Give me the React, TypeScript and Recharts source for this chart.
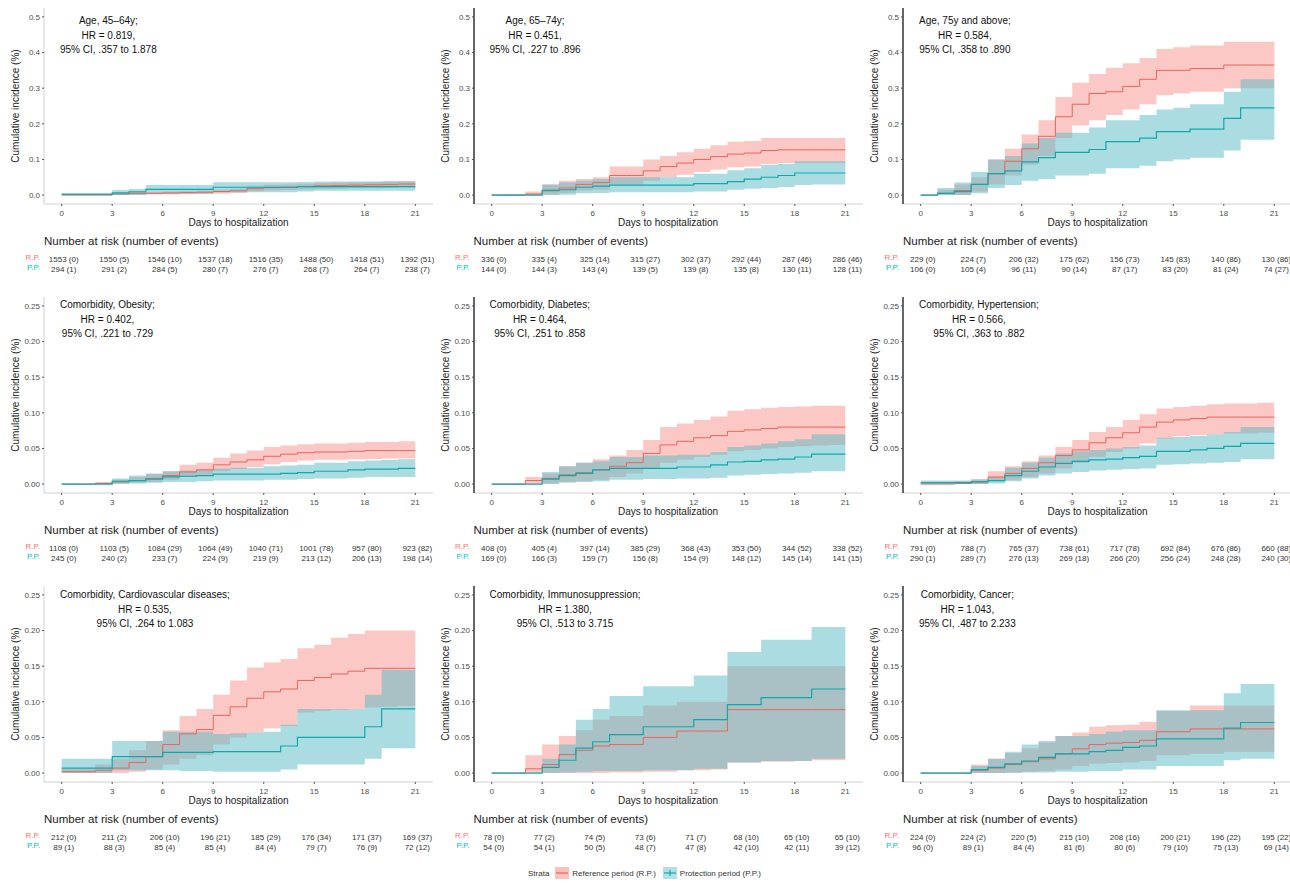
import React from 'react';
import { ComposedChart, Area, Line, XAxis, YAxis } from 'recharts';

const days = [0, 1, 2, 3, 4, 5, 6, 7, 8, 9, 10, 11, 12, 13, 14, 15, 16, 17, 18, 19, 20, 21];
const dayTicks = [0, 3, 6, 9, 12, 15, 18, 21];
const ticksAge = [0, 0.1, 0.2, 0.3, 0.4, 0.5];
const ticksCom = [0, 0.05, 0.1, 0.15, 0.2, 0.25];

// Age, 45-64y
const a1Rp = [0, 0, 0, 0.003, 0.004, 0.005, 0.006, 0.007, 0.008, 0.01, 0.012, 0.018, 0.021, 0.022, 0.024, 0.026, 0.027, 0.028, 0.029, 0.03, 0.031, 0.031];
const a1RpLo = [0, 0, 0, 0.001, 0.001, 0.002, 0.002, 0.003, 0.003, 0.004, 0.006, 0.011, 0.013, 0.014, 0.016, 0.017, 0.018, 0.019, 0.019, 0.02, 0.021, 0.021];
const a1RpHi = [0, 0, 0, 0.006, 0.007, 0.008, 0.01, 0.011, 0.012, 0.015, 0.018, 0.025, 0.029, 0.03, 0.032, 0.034, 0.035, 0.036, 0.037, 0.038, 0.039, 0.039];
const a1Pp = [0.002, 0.002, 0.002, 0.006, 0.009, 0.016, 0.016, 0.016, 0.016, 0.022, 0.022, 0.022, 0.022, 0.022, 0.024, 0.024, 0.024, 0.024, 0.024, 0.024, 0.024, 0.024];
const a1PpLo = [0, 0, 0, 0, 0.001, 0.004, 0.004, 0.004, 0.004, 0.008, 0.008, 0.008, 0.008, 0.008, 0.01, 0.012, 0.012, 0.012, 0.012, 0.012, 0.012, 0.012];
const a1PpHi = [0.005, 0.005, 0.005, 0.014, 0.017, 0.028, 0.028, 0.028, 0.028, 0.036, 0.036, 0.036, 0.036, 0.036, 0.037, 0.038, 0.038, 0.038, 0.038, 0.039, 0.039, 0.039];
const a1RiskRp = ['1553 (0)', '1550 (5)', '1546 (10)', '1537 (18)', '1516 (35)', '1488 (50)', '1418 (51)', '1392 (51)'];
const a1RiskPp = ['294 (1)', '291 (2)', '284 (5)', '280 (7)', '276 (7)', '268 (7)', '264 (7)', '238 (7)'];

// Age, 65-74y
const a2Rp = [0, 0, 0.003, 0.012, 0.02, 0.03, 0.035, 0.055, 0.055, 0.068, 0.08, 0.09, 0.1, 0.108, 0.115, 0.118, 0.125, 0.127, 0.127, 0.127, 0.127, 0.127];
const a2RpLo = [0, 0, 0, 0.002, 0.006, 0.012, 0.015, 0.03, 0.03, 0.04, 0.05, 0.057, 0.065, 0.072, 0.078, 0.08, 0.087, 0.09, 0.09, 0.09, 0.09, 0.09];
const a2RpHi = [0, 0, 0.01, 0.03, 0.04, 0.045, 0.05, 0.08, 0.08, 0.1, 0.11, 0.12, 0.13, 0.14, 0.15, 0.152, 0.16, 0.16, 0.16, 0.16, 0.16, 0.16];
const a2Pp = [0, 0, 0, 0.013, 0.015, 0.022, 0.025, 0.028, 0.028, 0.028, 0.028, 0.028, 0.032, 0.032, 0.038, 0.045, 0.05, 0.055, 0.062, 0.062, 0.062, 0.062];
const a2PpLo = [0, 0, 0, 0, 0.001, 0.005, 0.006, 0.008, 0.008, 0.008, 0.008, 0.008, 0.01, 0.01, 0.015, 0.018, 0.02, 0.023, 0.028, 0.03, 0.03, 0.03];
const a2PpHi = [0.002, 0.002, 0.002, 0.03, 0.035, 0.04, 0.045, 0.05, 0.05, 0.05, 0.05, 0.05, 0.06, 0.06, 0.07, 0.075, 0.085, 0.088, 0.095, 0.095, 0.095, 0.095];
const a2RiskRp = ['336 (0)', '335 (4)', '325 (14)', '315 (27)', '302 (37)', '292 (44)', '287 (46)', '286 (46)'];
const a2RiskPp = ['144 (0)', '144 (3)', '143 (4)', '139 (5)', '139 (8)', '135 (8)', '130 (11)', '128 (11)'];

// Age, 75y and above
const a3Rp = [0, 0.005, 0.013, 0.03, 0.06, 0.095, 0.13, 0.165, 0.22, 0.255, 0.285, 0.29, 0.305, 0.325, 0.35, 0.35, 0.355, 0.355, 0.365, 0.365, 0.365, 0.365];
const a3RpLo = [0, 0, 0, 0.01, 0.03, 0.055, 0.085, 0.11, 0.16, 0.195, 0.21, 0.225, 0.24, 0.255, 0.28, 0.285, 0.29, 0.29, 0.3, 0.3, 0.3, 0.3];
const a3RpHi = [0, 0.015, 0.03, 0.05, 0.1, 0.13, 0.17, 0.21, 0.275, 0.315, 0.34, 0.357, 0.37, 0.385, 0.41, 0.415, 0.42, 0.42, 0.43, 0.43, 0.43, 0.43];
const a3Pp = [0, 0.005, 0.01, 0.03, 0.06, 0.068, 0.093, 0.105, 0.12, 0.12, 0.128, 0.15, 0.15, 0.16, 0.178, 0.178, 0.185, 0.185, 0.215, 0.245, 0.245, 0.245];
const a3PpLo = [0, 0, 0, 0.005, 0.02, 0.028, 0.04, 0.045, 0.055, 0.055, 0.06, 0.075, 0.075, 0.082, 0.095, 0.1, 0.105, 0.105, 0.125, 0.155, 0.155, 0.155];
const a3PpHi = [0, 0.02, 0.035, 0.065, 0.1, 0.11, 0.145, 0.16, 0.175, 0.175, 0.19, 0.21, 0.21, 0.225, 0.24, 0.245, 0.255, 0.255, 0.29, 0.325, 0.325, 0.325];
const a3RiskRp = ['229 (0)', '224 (7)', '206 (32)', '175 (62)', '156 (73)', '145 (83)', '140 (86)', '130 (86)'];
const a3RiskPp = ['106 (0)', '105 (4)', '96 (11)', '90 (14)', '87 (17)', '83 (20)', '81 (24)', '74 (27)'];

// Comorbidity, Obesity
const obRp = [0, 0, 0.001, 0.003, 0.005, 0.008, 0.012, 0.017, 0.02, 0.027, 0.031, 0.034, 0.039, 0.042, 0.044, 0.045, 0.045, 0.046, 0.047, 0.047, 0.047, 0.047];
const obRpLo = [0, 0, 0, 0.001, 0.002, 0.003, 0.006, 0.01, 0.013, 0.018, 0.021, 0.024, 0.028, 0.031, 0.033, 0.034, 0.034, 0.035, 0.035, 0.036, 0.036, 0.036];
const obRpHi = [0, 0, 0.003, 0.006, 0.01, 0.014, 0.018, 0.027, 0.03, 0.037, 0.043, 0.047, 0.052, 0.054, 0.056, 0.057, 0.057, 0.058, 0.059, 0.059, 0.06, 0.06];
const obPp = [0, 0, 0, 0.004, 0.005, 0.007, 0.01, 0.011, 0.012, 0.014, 0.014, 0.014, 0.014, 0.015, 0.016, 0.018, 0.018, 0.02, 0.021, 0.021, 0.022, 0.022];
const obPpLo = [0, 0, 0, 0, 0.001, 0.002, 0.003, 0.003, 0.004, 0.005, 0.005, 0.005, 0.006, 0.006, 0.007, 0.008, 0.008, 0.009, 0.01, 0.01, 0.01, 0.01];
const obPpHi = [0, 0, 0, 0.008, 0.012, 0.015, 0.018, 0.019, 0.02, 0.022, 0.023, 0.023, 0.025, 0.026, 0.027, 0.03, 0.03, 0.032, 0.033, 0.034, 0.035, 0.035];
const obRiskRp = ['1108 (0)', '1103 (5)', '1084 (29)', '1064 (49)', '1040 (71)', '1001 (78)', '957 (80)', '923 (82)'];
const obRiskPp = ['245 (0)', '240 (2)', '233 (7)', '224 (9)', '219 (9)', '213 (12)', '206 (13)', '198 (14)'];

// Comorbidity, Diabetes
const dbRp = [0, 0, 0.005, 0.008, 0.013, 0.016, 0.02, 0.025, 0.03, 0.043, 0.055, 0.06, 0.065, 0.068, 0.074, 0.076, 0.078, 0.08, 0.08, 0.08, 0.08, 0.08];
const dbRpLo = [0, 0, 0, 0.001, 0.003, 0.004, 0.006, 0.01, 0.015, 0.022, 0.03, 0.034, 0.038, 0.041, 0.046, 0.048, 0.05, 0.052, 0.053, 0.054, 0.055, 0.055];
const dbRpHi = [0, 0, 0.01, 0.015, 0.025, 0.03, 0.035, 0.04, 0.048, 0.062, 0.08, 0.085, 0.09, 0.095, 0.103, 0.105, 0.107, 0.108, 0.109, 0.11, 0.11, 0.11];
const dbPp = [0, 0, 0, 0.007, 0.012, 0.015, 0.02, 0.022, 0.022, 0.022, 0.022, 0.024, 0.024, 0.027, 0.031, 0.032, 0.034, 0.035, 0.038, 0.042, 0.042, 0.042];
const dbPpLo = [0, 0, 0, 0, 0.002, 0.003, 0.004, 0.006, 0.006, 0.007, 0.007, 0.008, 0.008, 0.009, 0.012, 0.013, 0.014, 0.015, 0.016, 0.018, 0.018, 0.018];
const dbPpHi = [0, 0, 0, 0.017, 0.025, 0.03, 0.032, 0.038, 0.038, 0.04, 0.04, 0.041, 0.041, 0.045, 0.052, 0.054, 0.057, 0.06, 0.063, 0.07, 0.07, 0.07];
const dbRiskRp = ['408 (0)', '405 (4)', '397 (14)', '385 (29)', '368 (43)', '353 (50)', '344 (52)', '338 (52)'];
const dbRiskPp = ['169 (0)', '166 (3)', '159 (7)', '156 (8)', '154 (9)', '148 (12)', '145 (14)', '141 (15)'];

// Comorbidity, Hypertension
const htRp = [0, 0, 0.001, 0.003, 0.01, 0.015, 0.022, 0.03, 0.04, 0.048, 0.058, 0.065, 0.072, 0.08, 0.087, 0.09, 0.092, 0.094, 0.094, 0.094, 0.094, 0.094];
const htRpLo = [0, 0, 0, 0, 0.004, 0.006, 0.01, 0.015, 0.022, 0.03, 0.038, 0.045, 0.05, 0.057, 0.064, 0.067, 0.069, 0.07, 0.071, 0.071, 0.072, 0.072];
const htRpHi = [0.002, 0.002, 0.004, 0.007, 0.018, 0.025, 0.032, 0.04, 0.052, 0.062, 0.073, 0.08, 0.09, 0.098, 0.106, 0.108, 0.11, 0.112, 0.113, 0.113, 0.114, 0.114];
const htPp = [0.002, 0.002, 0.002, 0.003, 0.005, 0.012, 0.018, 0.024, 0.029, 0.032, 0.034, 0.035, 0.037, 0.039, 0.046, 0.046, 0.048, 0.05, 0.053, 0.057, 0.057, 0.057];
const htPpLo = [0, 0, 0, 0, 0.001, 0.004, 0.008, 0.012, 0.015, 0.017, 0.019, 0.02, 0.021, 0.022, 0.027, 0.028, 0.029, 0.03, 0.031, 0.035, 0.035, 0.035];
const htPpHi = [0.005, 0.005, 0.005, 0.006, 0.01, 0.023, 0.03, 0.037, 0.043, 0.046, 0.048, 0.05, 0.052, 0.054, 0.065, 0.066, 0.068, 0.07, 0.073, 0.08, 0.08, 0.08];
const htRiskRp = ['791 (0)', '788 (7)', '765 (37)', '738 (61)', '717 (78)', '692 (84)', '676 (86)', '660 (88)'];
const htRiskPp = ['290 (1)', '289 (7)', '276 (13)', '269 (18)', '266 (20)', '256 (24)', '248 (28)', '240 (30)'];

// Comorbidity, Cardiovascular diseases
const cvRp = [0.002, 0.002, 0.004, 0.007, 0.015, 0.023, 0.04, 0.055, 0.061, 0.081, 0.093, 0.105, 0.114, 0.118, 0.13, 0.134, 0.139, 0.143, 0.147, 0.147, 0.147, 0.147];
const cvRpLo = [0, 0, 0, 0, 0.002, 0.005, 0.012, 0.02, 0.025, 0.04, 0.05, 0.057, 0.063, 0.066, 0.085, 0.087, 0.089, 0.09, 0.092, 0.093, 0.094, 0.094];
const cvRpHi = [0.006, 0.006, 0.012, 0.02, 0.032, 0.045, 0.06, 0.08, 0.09, 0.11, 0.13, 0.148, 0.155, 0.16, 0.175, 0.18, 0.19, 0.195, 0.2, 0.2, 0.2, 0.2];
const cvPp = [0.007, 0.007, 0.007, 0.023, 0.023, 0.023, 0.029, 0.029, 0.029, 0.03, 0.03, 0.03, 0.03, 0.038, 0.05, 0.05, 0.05, 0.05, 0.065, 0.09, 0.09, 0.09];
const cvPpLo = [0, 0, 0, 0.004, 0.004, 0.004, 0.004, 0.003, 0.003, 0.002, 0.002, 0.002, 0.002, 0.005, 0.012, 0.012, 0.012, 0.012, 0.02, 0.035, 0.035, 0.035];
const cvPpHi = [0.02, 0.02, 0.02, 0.045, 0.045, 0.045, 0.058, 0.058, 0.058, 0.055, 0.056, 0.057, 0.058, 0.068, 0.09, 0.09, 0.09, 0.09, 0.11, 0.145, 0.145, 0.145];
const cvRiskRp = ['212 (0)', '211 (2)', '206 (10)', '196 (21)', '185 (29)', '176 (34)', '171 (37)', '169 (37)'];
const cvRiskPp = ['89 (1)', '88 (3)', '85 (4)', '85 (4)', '84 (4)', '79 (7)', '76 (9)', '72 (12)'];

// Comorbidity, Immunosuppression
const imRp = [0, 0, 0.006, 0.012, 0.026, 0.032, 0.038, 0.04, 0.04, 0.05, 0.05, 0.059, 0.059, 0.059, 0.089, 0.089, 0.089, 0.089, 0.089, 0.089, 0.089, 0.089];
const imRpLo = [0, 0, 0, 0, 0, 0, 0, 0.001, 0.001, 0.002, 0.002, 0.004, 0.004, 0.005, 0.015, 0.015, 0.016, 0.016, 0.017, 0.018, 0.018, 0.018];
const imRpHi = [0, 0, 0.025, 0.04, 0.052, 0.06, 0.075, 0.08, 0.08, 0.095, 0.095, 0.1, 0.1, 0.1, 0.15, 0.15, 0.15, 0.15, 0.15, 0.15, 0.15, 0.15];
const imPp = [0, 0, 0, 0.008, 0.018, 0.035, 0.044, 0.054, 0.054, 0.065, 0.065, 0.065, 0.075, 0.075, 0.096, 0.096, 0.106, 0.106, 0.106, 0.118, 0.118, 0.118];
const imPpLo = [0, 0, 0, 0, 0.001, 0.002, 0.003, 0.003, 0.003, 0.004, 0.004, 0.004, 0.006, 0.006, 0.015, 0.015, 0.017, 0.017, 0.017, 0.02, 0.02, 0.02];
const imPpHi = [0, 0, 0, 0.02, 0.04, 0.075, 0.09, 0.108, 0.108, 0.122, 0.122, 0.122, 0.137, 0.137, 0.17, 0.17, 0.187, 0.187, 0.187, 0.205, 0.205, 0.205];
const imRiskRp = ['78 (0)', '77 (2)', '74 (5)', '73 (6)', '71 (7)', '68 (10)', '65 (10)', '65 (10)'];
const imRiskPp = ['54 (0)', '54 (1)', '50 (5)', '48 (7)', '47 (8)', '42 (10)', '42 (11)', '39 (12)'];

// Comorbidity, Cancer
const caRp = [0, 0, 0, 0.004, 0.007, 0.012, 0.016, 0.02, 0.027, 0.034, 0.04, 0.042, 0.043, 0.046, 0.058, 0.058, 0.062, 0.062, 0.062, 0.062, 0.062, 0.062];
const caRpLo = [0, 0, 0, 0, 0, 0.001, 0.002, 0.003, 0.005, 0.01, 0.013, 0.014, 0.015, 0.017, 0.025, 0.025, 0.027, 0.027, 0.03, 0.03, 0.03, 0.03];
const caRpHi = [0, 0, 0, 0.012, 0.02, 0.028, 0.035, 0.043, 0.052, 0.057, 0.065, 0.067, 0.068, 0.072, 0.087, 0.087, 0.095, 0.095, 0.095, 0.095, 0.095, 0.095];
const caPp = [0, 0, 0, 0.005, 0.008, 0.013, 0.017, 0.022, 0.027, 0.027, 0.03, 0.032, 0.036, 0.038, 0.048, 0.048, 0.048, 0.048, 0.063, 0.071, 0.071, 0.071];
const caPpLo = [0, 0, 0, 0, 0, 0, 0.001, 0.001, 0.002, 0.002, 0.003, 0.003, 0.005, 0.005, 0.01, 0.01, 0.01, 0.01, 0.018, 0.02, 0.02, 0.02];
const caPpHi = [0, 0, 0, 0.01, 0.02, 0.03, 0.04, 0.045, 0.052, 0.052, 0.055, 0.058, 0.06, 0.06, 0.088, 0.088, 0.088, 0.088, 0.112, 0.125, 0.125, 0.125];
const caRiskRp = ['224 (0)', '224 (2)', '220 (5)', '215 (10)', '208 (16)', '200 (21)', '196 (22)', '195 (22)'];
const caRiskPp = ['96 (0)', '89 (1)', '84 (4)', '81 (6)', '80 (6)', '79 (10)', '75 (13)', '69 (14)'];

const RP_LINE = '#E8655C';
const PP_LINE = '#0FA9AB';
const RP_FILL = '#F8766D';
const PP_FILL = '#55B9C3';
const FONT = '"Liberation Sans", Arial, Helvetica, sans-serif';

type Panel = {
  label: string[];
  rp: number[]; rpLo: number[]; rpHi: number[];
  pp: number[]; ppLo: number[]; ppHi: number[];
  riskRp: string[]; riskPp: string[];
};

const panels: Panel[] = [
  { label: ['Age, 45\u201364y;', 'HR = 0.819,', '95% CI, .357 to 1.878'], rp: a1Rp, rpLo: a1RpLo, rpHi: a1RpHi, pp: a1Pp, ppLo: a1PpLo, ppHi: a1PpHi, riskRp: a1RiskRp, riskPp: a1RiskPp },
  { label: ['Age, 65\u201374y;', 'HR = 0.451,', '95% CI, .227 to .896'], rp: a2Rp, rpLo: a2RpLo, rpHi: a2RpHi, pp: a2Pp, ppLo: a2PpLo, ppHi: a2PpHi, riskRp: a2RiskRp, riskPp: a2RiskPp },
  { label: ['Age, 75y and above;', 'HR = 0.584,', '95% CI, .358 to .890'], rp: a3Rp, rpLo: a3RpLo, rpHi: a3RpHi, pp: a3Pp, ppLo: a3PpLo, ppHi: a3PpHi, riskRp: a3RiskRp, riskPp: a3RiskPp },
  { label: ['Comorbidity, Obesity;', 'HR = 0.402,', '95% CI, .221 to .729'], rp: obRp, rpLo: obRpLo, rpHi: obRpHi, pp: obPp, ppLo: obPpLo, ppHi: obPpHi, riskRp: obRiskRp, riskPp: obRiskPp },
  { label: ['Comorbidity, Diabetes;', 'HR = 0.464,', '95% CI, .251 to .858'], rp: dbRp, rpLo: dbRpLo, rpHi: dbRpHi, pp: dbPp, ppLo: dbPpLo, ppHi: dbPpHi, riskRp: dbRiskRp, riskPp: dbRiskPp },
  { label: ['Comorbidity, Hypertension;', 'HR = 0.566,', '95% CI, .363 to .882'], rp: htRp, rpLo: htRpLo, rpHi: htRpHi, pp: htPp, ppLo: htPpLo, ppHi: htPpHi, riskRp: htRiskRp, riskPp: htRiskPp },
  { label: ['Comorbidity, Cardiovascular diseases;', 'HR = 0.535,', '95% CI, .264 to 1.083'], rp: cvRp, rpLo: cvRpLo, rpHi: cvRpHi, pp: cvPp, ppLo: cvPpLo, ppHi: cvPpHi, riskRp: cvRiskRp, riskPp: cvRiskPp },
  { label: ['Comorbidity, Immunosuppression;', 'HR = 1.380,', '95% CI, .513 to 3.715'], rp: imRp, rpLo: imRpLo, rpHi: imRpHi, pp: imPp, ppLo: imPpLo, ppHi: imPpHi, riskRp: imRiskRp, riskPp: imRiskPp },
  { label: ['Comorbidity, Cancer;', 'HR = 1.043,', '95% CI, .487 to 2.233'], rp: caRp, rpLo: caRpLo, rpHi: caRpHi, pp: caPp, ppLo: caPpLo, ppHi: caPpHi, riskRp: caRiskRp, riskPp: caRiskPp },
];

const COL_X = [0, 429.5, 859];
const ROW_Y = [0, 289, 578];
const LABEL_TOP = [14, 9, 10];
const W = 434;
const H = 290;
const PLOT_TOP = 8;
const PLOT_H = 196;
const Y_AXIS_W = 44;

const RiskTick = (props: any) => {
  const { x, y, payload, riskRp, riskPp } = props;
  const i = Math.round(payload.value / 3);
  return (
    <g fontFamily={FONT}>
      <text x={x} y={y + 8} textAnchor="middle" fontSize={8} fill="#4d4d4d">{payload.value}</text>
      <text x={x + 2} y={y + 54} textAnchor="middle" fontSize={8} fill="#333">{riskRp[i]}</text>
      <text x={x + 2} y={y + 63.5} textAnchor="middle" fontSize={8} fill="#333">{riskPp[i]}</text>
    </g>
  );
};

const PanelChart = ({ p, idx }: { p: Panel; idx: number }) => {
  const col = idx % 3;
  const row = Math.floor(idx / 3);
  const isAge = row === 0;
  const yMax = isAge ? 0.5 : 0.25;
  const pad = yMax * 0.05;
  const rows = days.map((d, i) => ({
    day: d,
    rp: p.rp[i],
    rpBand: [p.rpLo[i], p.rpHi[i]],
    pp: p.pp[i],
    ppBand: [p.ppLo[i], p.ppHi[i]],
  }));
  const yAxisStroke = col === 0 ? '#d0d0d0' : '#000';
  return (
    <div style={{ position: 'absolute', left: COL_X[col], top: ROW_Y[row], width: W, height: H }}>
      <ComposedChart width={W} height={H} data={rows} margin={{ top: PLOT_TOP, right: 1, bottom: 0, left: 0 }}>
        <XAxis
          dataKey="day"
          type="number"
          domain={[-1.05, 22.05]}
          ticks={dayTicks}
          interval={0}
          allowDataOverflow
          height={H - PLOT_TOP - PLOT_H}
          axisLine={{ stroke: '#d0d0d0' }}
          tickLine={{ stroke: '#555' }}
          tickSize={2}
          tickMargin={2}
          tick={(tp: any) => <RiskTick {...tp} riskRp={p.riskRp} riskPp={p.riskPp} />}
        />
        <YAxis
          type="number"
          domain={[-pad, yMax + pad]}
          ticks={isAge ? ticksAge : ticksCom}
          allowDataOverflow
          width={Y_AXIS_W}
          axisLine={{ stroke: yAxisStroke, strokeWidth: col === 0 ? 1 : 1.2 }}
          tickLine={{ stroke: '#555' }}
          tickSize={2}
          tickMargin={2}
          tick={{ fontSize: 8, fill: '#4d4d4d', fontFamily: FONT }}
          tickFormatter={(v: number) => v.toFixed(isAge ? 1 : 2)}
        />
        <Area dataKey="rpBand" type="stepAfter" stroke="none" fill={RP_FILL} fillOpacity={0.4} isAnimationActive={false} />
        <Area dataKey="ppBand" type="stepAfter" stroke="none" fill={PP_FILL} fillOpacity={0.5} isAnimationActive={false} />
        <Line dataKey="rp" type="stepAfter" stroke={RP_LINE} strokeWidth={1} dot={false} isAnimationActive={false} />
        <Line dataKey="pp" type="stepAfter" stroke={PP_LINE} strokeWidth={1.2} dot={false} isAnimationActive={false} />
      </ComposedChart>
      <div style={{ position: 'absolute', left: 60, top: LABEL_TOP[row], textAlign: 'center', fontSize: 10, lineHeight: '14.5px', whiteSpace: 'nowrap', color: '#111' }}>
        {p.label.map((l) => <div key={l}>{l}</div>)}
      </div>
      <div style={{ position: 'absolute', left: 16 - PLOT_H / 2, top: PLOT_TOP + PLOT_H / 2 - 6, width: PLOT_H, height: 12, lineHeight: '12px', textAlign: 'center', fontSize: 10, color: '#222', transform: 'rotate(-90deg)' }}>
        Cumulative incidence (%)
      </div>
      <div style={{ position: 'absolute', left: Y_AXIS_W, width: W - Y_AXIS_W - 1, top: PLOT_TOP + PLOT_H + 13, textAlign: 'center', fontSize: 10, lineHeight: '12px', color: '#222' }}>
        Days to hospitalization
      </div>
      <div style={{ position: 'absolute', left: 44, top: PLOT_TOP + PLOT_H + 30, fontSize: 11.5, lineHeight: '14px', color: '#222', whiteSpace: 'nowrap' }}>
        Number at risk (number of events)
      </div>
      <div style={{ position: 'absolute', right: W - 40, top: PLOT_TOP + PLOT_H + 49, fontSize: 8, lineHeight: '9.5px', textAlign: 'right' }}>
        <div style={{ color: RP_FILL }}>R.P.</div>
        <div style={{ color: '#00BFC4' }}>P.P.</div>
      </div>
    </div>
  );
};

const LegendKey = ({ color, fill, plus }: { color: string; fill: string; plus?: boolean }) => (
  <svg width={14} height={12} style={{ margin: '0 3px' }}>
    <rect x={0} y={0} width={14} height={12} fill={fill} fillOpacity={0.45} />
    <line x1={1} x2={13} y1={6} y2={6} stroke={color} strokeWidth={1.2} />
    {plus && <line x1={7} x2={7} y1={3} y2={9} stroke={color} strokeWidth={1.2} />}
  </svg>
);

export default function App() {
  return (
    <div style={{ position: 'absolute', left: 0, top: 0, width: 1290, height: 883, overflow: 'hidden', background: '#fff', fontFamily: FONT }}>
      {panels.map((p, i) => <PanelChart key={i} p={p} idx={i} />)}
      <div style={{ position: 'absolute', left: 528, top: 867, display: 'flex', alignItems: 'center', fontSize: 8, color: '#333', whiteSpace: 'nowrap' }}>
        <span style={{ marginRight: 3 }}>Strata</span>
        <LegendKey color={RP_LINE} fill={RP_FILL} />
        <span style={{ marginRight: 4 }}>Reference period (R.P.)</span>
        <LegendKey color={PP_LINE} fill={PP_FILL} plus />
        <span>Protection period (P.P.)</span>
      </div>
    </div>
  );
}
